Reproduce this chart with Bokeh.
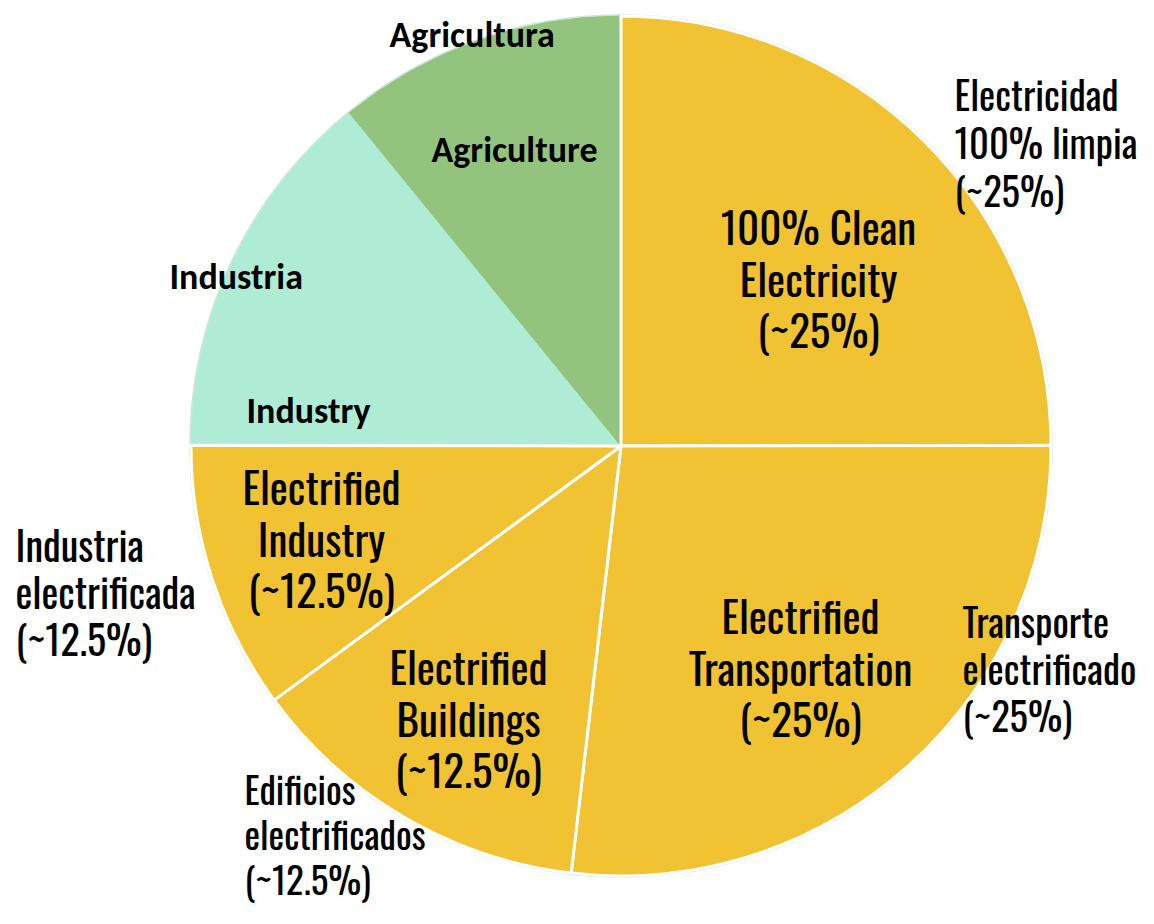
import numpy as np
from bokeh.plotting import figure
from bokeh.models import Range1d
from bokeh.core.properties import value
from bokeh.embed import file_html
from bokeh.resources import INLINE

# ---- data ----
sectors_en = ["100% Clean\nElectricity", "Electrified\nTransportation", "Electrified\nBuildings",
              "Electrified\nIndustry", "Industry", "Agriculture"]
sectors_es = ["Electricidad\n100% limpia", "Transporte\nelectrificado", "Edificios\nelectrificados",
              "Industria\nelectrificada", "Industria", "Agricultura"]
shares = [25.0, 26.9, 13.1, 10.1, 14.1, 10.9]
approx_labels = ["(~25%)", "(~25%)", "(~12.5%)", "(~12.5%)", "", ""]
colors = ["#F1C232", "#F1C232", "#F1C232", "#F1C232", "#AFECD5", "#93C47D"]

# ---- layout ----
W, H = 1138, 908
p = figure(width=W, height=H, x_range=Range1d(0, W), y_range=Range1d(-H, 0),
           output_backend="svg", toolbar_location=None, min_border=0)
p.axis.visible = False
p.grid.visible = False
p.outline_line_color = None
p.background_fill_color = "white"

cx, cy, R = 620.5, -445.5, 430

total = sum(shares)
cum = np.cumsum([0] + shares)
start_rad = [np.deg2rad(90 - 360 * cum[i + 1] / total) for i in range(len(shares))]
end_rad = [np.deg2rad(90 - 360 * cum[i] / total) for i in range(len(shares))]

# faint outer ring
p.circle(x=[cx], y=[cy], radius=R + 1, fill_color=None, line_color="#cfe3dd", line_width=1.5)

order = [4, 5, 0, 1, 2, 3]
for i in order:
    yellow = colors[i] == "#F1C232"
    p.wedge(x=[cx], y=[cy], radius=R, start_angle=[start_rad[i]], end_angle=[end_rad[i]],
            fill_color=colors[i],
            line_color="white" if yellow else colors[i],
            line_width=3 if yellow else 1)

COND = value("Oswald")
BOLD = value("Carlito")

inner_pos = [(818, 225), (800, 614), (468, 665), (321, 485), (308, 410), (514, 149)]
outer_pos = [(954, 93), (962, 620), (244, 788), (15, 543), (169, 276), (389, 34)]
outer_size = ["38.5px", "38.5px", "37px", "40px", None, None]
outer_step = [48, 47, 45, 47, None, None]

for i in range(len(shares)):
    if approx_labels[i]:
        lines = sectors_en[i].split("\n") + [approx_labels[i]]
        x0, y0 = inner_pos[i]
        p.text(x=[x0] * len(lines), y=[-(y0 + 51.5 * k) for k in range(len(lines))], text=lines,
               text_font=COND, text_font_size="43px", text_align="center",
               text_baseline="middle", text_color="black")
        lines = sectors_es[i].split("\n") + [approx_labels[i]]
        x0, y0 = outer_pos[i]
        p.text(x=[x0] * len(lines), y=[-(y0 + outer_step[i] * k) for k in range(len(lines))], text=lines,
               text_font=COND, text_font_size=outer_size[i], text_align="left",
               text_baseline="middle", text_color="black")
    else:
        x0, y0 = inner_pos[i]
        p.text(x=[x0], y=[-y0], text=[sectors_en[i]], text_font=BOLD, text_font_style="bold",
               text_font_size="36px", text_align="center", text_baseline="middle", text_color="black")
        x0, y0 = outer_pos[i]
        p.text(x=[x0], y=[-y0], text=[sectors_es[i]], text_font=BOLD, text_font_style="bold",
               text_font_size="36px", text_align="left", text_baseline="middle", text_color="black")

open("out.html", "w").write(file_html(p, INLINE))
